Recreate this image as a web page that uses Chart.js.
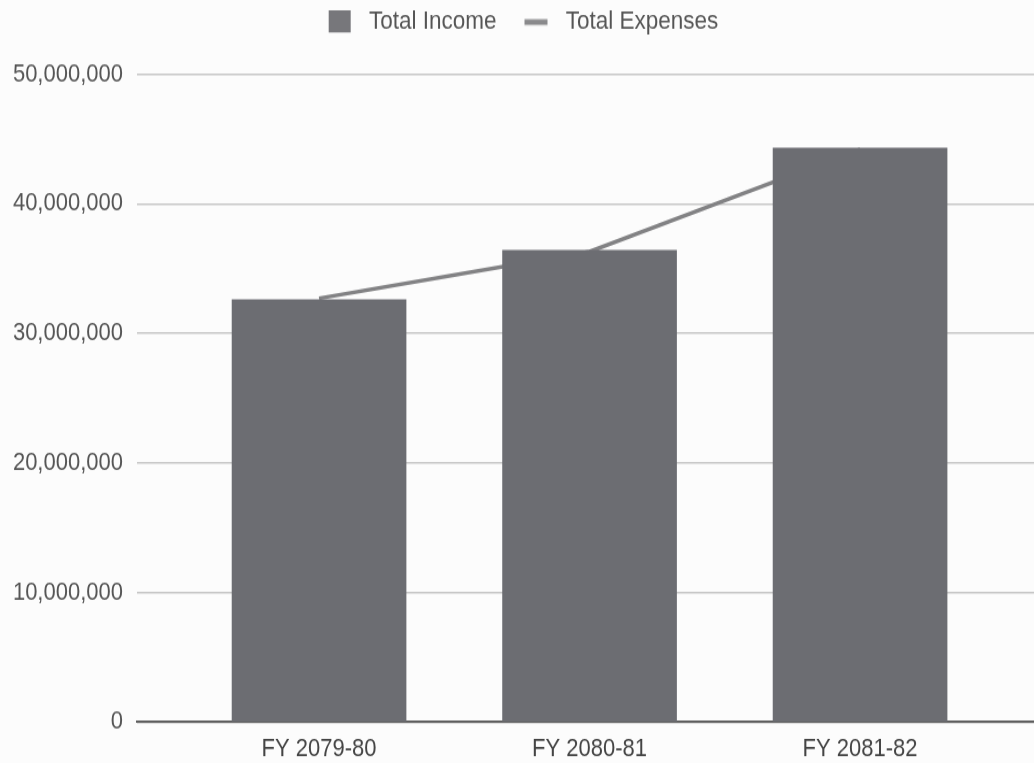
<!DOCTYPE html>
<html>
<head>
<meta charset="utf-8">
<title>Total Income vs Total Expenses</title>
<script src="https://cdn.jsdelivr.net/npm/chart.js@4/dist/chart.umd.min.js"></script>
<style>
  html, body { margin: 0; padding: 0; background: #fcfcfc; width: 1034px; height: 763px; }
  #wrap {
    position: absolute;
    left: 0; top: 0;
    width: 1034px;
    height: 664px;
    transform: scaleY(1.1491);
    transform-origin: 0 0;
  }
  #chart { display: block; width: 1034px; height: 664px; }
</style>
</head>
<body>
<div id="wrap"><canvas id="chart" width="1034" height="664"></canvas></div>
<script>
// Fiscal years and amounts
const categories = ['FY 2079-80', 'FY 2080-81', 'FY 2081-82'];
const totalIncome = [32600000, 36400000, 44300000];
const totalExpenses = [32700000, 36300000, 44200000];
const yTicks = [0, 10000000, 20000000, 30000000, 40000000, 50000000];

const FONT = '"Liberation Sans", Arial, Helvetica, sans-serif';
const BAR_COLOR = '#6c6d72';
const LINE_COLOR = '#828284';

// Legend icons: a square for the bars, a short thick dash for the line
const ICON_W = 52;
function makeIcon(draw) {
  const c = document.createElement('canvas');
  c.width = ICON_W; c.height = 20;
  draw(c.getContext('2d'));
  return c;
}
const legendIcons = [
  makeIcon(ctx => { ctx.fillStyle = '#77777b'; ctx.fillRect(23, 0, 22, 19); }),
  makeIcon(ctx => { ctx.fillStyle = '#8a8a8c'; ctx.fillRect(22, 7.5, 23, 5); })
];

// Leave room between the legend and the plot, and nudge the legend slightly left
const legendGap = {
  id: 'legendGap',
  beforeInit(chart) {
    const fit = chart.legend.fit;
    chart.legend.fit = function () { fit.call(this); this.height += 24; };
  },
  afterLayout(chart) {
    chart.legend.right -= 10;
  }
};

new Chart(document.getElementById('chart'), {
  data: {
    datasets: [
      {
        type: 'bar',
        label: 'Total Income',
        data: totalIncome.map((v, i) => ({ x: i, y: v })),
        backgroundColor: BAR_COLOR,
        borderWidth: 0,
        barThickness: 174
      },
      {
        type: 'line',
        label: 'Total Expenses',
        data: totalExpenses.map((v, i) => ({ x: i, y: v })),
        borderColor: LINE_COLOR,
        backgroundColor: LINE_COLOR,
        borderWidth: 3.5,
        pointRadius: 0,
        tension: 0,
        fill: false
      }
    ]
  },
  options: {
    responsive: false,
    maintainAspectRatio: false,
    animation: false,
    devicePixelRatio: 1,
    layout: { padding: { left: 0, right: 0, top: 2, bottom: 0 } },
    plugins: {
      tooltip: { enabled: false },
      legend: {
        position: 'top',
        labels: {
          usePointStyle: true,
          pointStyleWidth: ICON_W,
          padding: 6,
          color: '#555',
          font: { family: FONT, size: 22.5 },
          generateLabels(chart) {
            const items = Chart.defaults.plugins.legend.labels.generateLabels(chart);
            items.forEach((it, i) => { it.pointStyle = legendIcons[i]; });
            return items;
          }
        }
      }
    },
    scales: {
      x: {
        type: 'linear',
        offset: false,
        min: -0.673,
        max: 2.643,
        afterBuildTicks(scale) { scale.ticks = categories.map((_, i) => ({ value: i })); },
        afterFit(scale) { scale.height = 35.6; },
        ticks: {
          callback: (v) => categories[v] ?? '',
          color: '#444',
          padding: 2,
          maxRotation: 0,
          autoSkip: false,
          font: { family: FONT, size: 22 }
        },
        grid: { display: false },
        border: { display: true, color: '#5e5e5e', width: 2 }
      },
      y: {
        min: 0,
        max: 50000000,
        afterBuildTicks(scale) { scale.ticks = yTicks.map(v => ({ value: v })); },
        afterFit(scale) { scale.width = 137; },
        ticks: {
          callback: (v) => v.toLocaleString('en-US'),
          color: '#555',
          padding: 14,
          font: { family: FONT, size: 22 }
        },
        grid: { color: '#c6c6c6', lineWidth: 1.5, drawTicks: false },
        border: { display: false }
      }
    }
  },
  plugins: [legendGap]
});
</script>
</body>
</html>
